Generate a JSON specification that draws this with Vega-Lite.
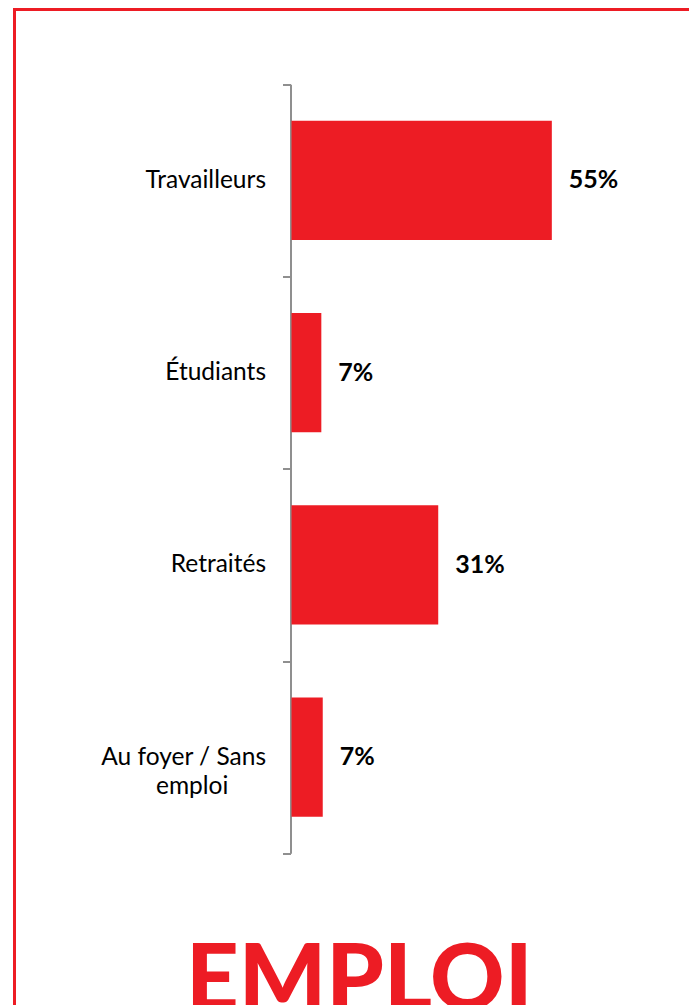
{
  "$schema": "https://vega.github.io/schema/vega-lite/v6.json",
  "width": 689.5,
  "height": 1015.5,
  "autosize": {"type": "none"},
  "padding": {"left": 14.5, "top": 9.5, "right": -15, "bottom": -20},
  "background": "white",
  "config": {"view": {"stroke": "#ED1C24", "strokeWidth": 3}, "font": "Lato"},
  "title": {"text": "EMPLOI", "orient": "bottom", "offset": -15, "baseline": "alphabetic", "fontSize": 92, "fontWeight": 900, "color": "#ED1C24", "font": "Lato", "anchor": "middle"},
  "data": {"values": [
    {"category": "Travailleurs", "value": 55, "label": "55%"},
    {"category": "Étudiants", "value": 6.3, "label": "7%"},
    {"category": "Retraités", "value": 31, "label": "31%"},
    {"category": "Au foyer / Sans emploi", "value": 6.6, "label": "7%"}
  ]},
  "encoding": {
    "y": {
      "field": "category", "type": "nominal", "sort": null,
      "scale": {"range": [74.8, 843.8], "paddingInner": 0, "paddingOuter": 0},
      "axis": {
        "title": null, "offset": -276, "tickBand": "extent",
        "domainColor": "#8F8F8F", "domainWidth": 2,
        "tickColor": "#8F8F8F", "tickWidth": 2, "tickSize": 8,
        "labelPadding": 17, "labelFontSize": 24.5, "labelColor": "#000000", "labelFont": "Lato",
        "labelLimit": 300, "labelLineHeight": 29,
        "labelExpr": "datum.value == 'Au foyer / Sans emploi' ? ['Au foyer / Sans', 'emploi\u00a0\u00a0\u00a0\u00a0\u00a0\u00a0\u2060'] : datum.value"
      }
    }
  },
  "layer": [
    {
      "mark": {"type": "bar", "color": "#ED1C24", "height": {"band": 0.62}},
      "encoding": {
        "x": {"field": "value", "type": "quantitative", "scale": {"domain": [-58.525, 87.15], "nice": false, "zero": false}, "axis": null}
      }
    },
    {
      "mark": {"type": "text", "align": "left", "baseline": "middle", "dx": 17, "fontSize": 25, "fontWeight": "bold", "font": "Lato", "color": "#000000"},
      "encoding": {
        "x": {"field": "value", "type": "quantitative"},
        "text": {"field": "label"}
      }
    }
  ]
}
